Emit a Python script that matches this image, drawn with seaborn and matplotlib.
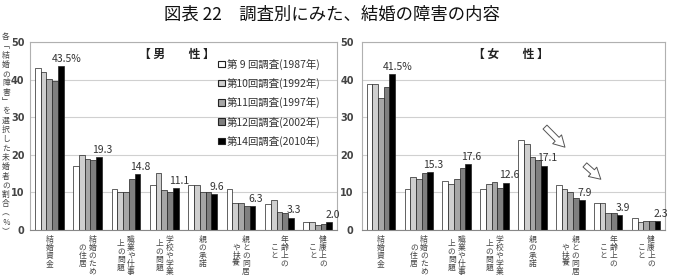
import pandas as pd
import matplotlib.pyplot as plt
import seaborn as sns

# --- Data ---
categories = ['結婚資金', '結婚のための住居', '職業や仕事上の問題', '学校や学業上の問題',
              '親の承諾', '親との同居や扶養', '年齢上のこと', '健康上のこと']
# vertical label columns (right column first, like Japanese vertical text)
label_columns = [['結婚資金'], ['結婚のため', 'の住居'], ['職業や仕事', '上の問題'],
                 ['学校や学業', '上の問題'], ['親の承諾'], ['親との同居', 'や扶養'],
                 ['年齢上の', 'こと'], ['健康上の', 'こと']]
surveys = ['第 9 回調査(1987年)', '第10回調査(1992年)', '第11回調査(1997年)',
           '第12回調査(2002年)', '第14回調査(2010年)']

male_1987 = [43.0, 17.1, 11.0, 12.1, 12.1, 11.0, 7.0, 2.0]
male_1992 = [41.9, 20.0, 10.0, 15.1, 12.1, 7.1, 8.0, 2.0]
male_1997 = [40.2, 18.8, 10.2, 10.7, 10.2, 7.1, 4.9, 1.4]
male_2002 = [39.6, 18.5, 13.6, 10.2, 10.2, 6.5, 4.5, 1.7]
male_2010 = [43.5, 19.3, 14.8, 11.1, 9.6, 6.3, 3.3, 2.0]

female_1987 = [38.9, 11.0, 13.0, 11.0, 24.0, 12.1, 7.1, 3.1]
female_1992 = [38.9, 14.2, 12.2, 12.2, 23.0, 11.0, 7.1, 2.0]
female_1997 = [35.1, 13.5, 13.5, 12.8, 19.5, 10.0, 4.6, 2.3]
female_2002 = [38.0, 15.1, 16.4, 11.3, 18.5, 8.6, 4.6, 2.3]
female_2010 = [41.5, 15.3, 17.6, 12.6, 17.1, 7.9, 3.9, 2.3]

bar_colors = ['#ffffff', '#cfcfcf', '#a6a6a6', '#7f7f7f', '#000000']


def to_long(series_list):
    rows = []
    for survey, values in zip(surveys, series_list):
        for cat, v in zip(categories, values):
            rows.append({'category': cat, 'survey': survey, 'value': v})
    return pd.DataFrame(rows)


df_male = to_long([male_1987, male_1992, male_1997, male_2002, male_2010])
df_female = to_long([female_1987, female_1992, female_1997, female_2002, female_2010])

# --- Style ---
sns.set_style('white')
plt.rcParams['font.family'] = ['Noto Sans CJK JP', 'DejaVu Sans']

W, H = 673, 279
fig = plt.figure(figsize=(W / 100, H / 100), dpi=100)
ax_m = fig.add_axes([30 / W, (H - 230) / H, 307 / W, 188 / H])
ax_f = fig.add_axes([362 / W, (H - 230) / H, 303 / W, 188 / H])


def draw_panel(ax, df, title, title_x, show_legend, ypad):
    sns.barplot(data=df, x='category', y='value', hue='survey', palette=bar_colors,
                edgecolor='#222222', linewidth=0.5, width=0.75, ax=ax,
                legend=show_legend, saturation=1)
    ax.set_ylim(0, 50)
    ax.set_xlim(-0.5, 7.5)
    ax.set_yticks([0, 10, 20, 30, 40, 50])
    ax.set_yticklabels(['0', '10', '20', '30', '40', '50'], fontsize=7,
                       fontweight='bold', color='#444444', family='DejaVu Sans')
    ax.tick_params(axis='y', length=0, pad=ypad)
    ax.set_xticks(range(len(categories)))
    ax.set_xticklabels([])
    ax.tick_params(axis='x', length=0)
    ax.set_xlabel('')
    ax.set_ylabel('')
    ax.grid(axis='y', color='#d0d0d0', linewidth=0.8)
    ax.set_axisbelow(True)
    for side in ['top', 'right', 'left', 'bottom']:
        ax.spines[side].set_color('#b0b0b0')
        ax.spines[side].set_linewidth(0.8)
    ax.spines['bottom'].set_color('#888888')

    ax.text(title_x, 0.935, title, transform=ax.transAxes, ha='center', va='center',
            fontsize=8.5, fontweight='bold', color='#222222')

    # value labels over the 2010 bars
    last = ax.containers[-1]
    for i, bar in enumerate(last):
        x = bar.get_x() + bar.get_width() / 2
        h = bar.get_height()
        if i == 0:
            ax.text(x + 0.15, h + 0.6, f'{h:.1f}%', ha='center', va='bottom',
                    fontsize=7.5, color='#333333')
        else:
            ax.text(x + 0.08, h + 0.6, f'{h:.1f}', ha='center', va='bottom',
                    fontsize=7.5, color='#333333')

    # vertical category labels
    char_pitch = 8.0 * 0.72
    col_gap = 10 * 0.72
    top = -6 * 0.72
    for i, cols in enumerate(label_columns):
        n_max = max(len(c) for c in cols)
        ncol = len(cols)
        for j, col in enumerate(cols):
            dx = ((ncol - 1) / 2 - j) * col_gap
            y0 = top - (n_max - len(col)) * char_pitch / 2
            for k, ch in enumerate(col):
                ax.annotate(ch, xy=(i, 0), xycoords=('data', 'axes fraction'),
                            xytext=(dx, y0 - k * char_pitch - char_pitch / 2),
                            textcoords='offset points', ha='center', va='center',
                            fontsize=5.6, color='#444444', annotation_clip=False)

    if show_legend:
        leg = ax.legend(loc='upper left', bbox_to_anchor=(0.6, 0.935), frameon=False,
                        fontsize=7.5, handlelength=0.6, handleheight=0.6,
                        handletextpad=0.2, labelspacing=0.78, borderaxespad=0)
        for t in leg.get_texts():
            t.set_color('#333333')
        for hnd in leg.legend_handles:
            hnd.set_edgecolor('#222222')
            hnd.set_linewidth(0.8)


draw_panel(ax_m, df_male, '【 男　　性 】', 0.48, True, 4)
draw_panel(ax_f, df_female, '【 女　　性 】', 0.49, False, 6)

# hollow arrows on the female panel
arrow_props = dict(arrowstyle='simple,head_width=0.9,head_length=0.8,tail_width=0.4',
                   fc='white', ec='#555555', lw=0.7)
ax_f.annotate('', xy=(4.91, 21.5), xytext=(4.28, 27.9), arrowprops=arrow_props)
ax_f.annotate('', xy=(5.86, 13.0), xytext=(5.33, 17.8), arrowprops=arrow_props)

# figure title
fig.text(332 / W, 1 - 15 / H, '図表 22　調査別にみた、結婚の障害の内容',
         ha='center', va='center', fontsize=12.5, color='#111111')

# vertical y-axis label, stacked characters
ylabel = '各﹁結婚の障害﹂を選択した未婚者の割合︵％︶'
pitch = 9.3
for k, ch in enumerate(ylabel):
    fig.text(6 / W, 1 - (37 + k * pitch) / H, ch, ha='center', va='center',
             fontsize=5.6, color='#444444')

plt.savefig('out.png', dpi=100)
plt.close()
